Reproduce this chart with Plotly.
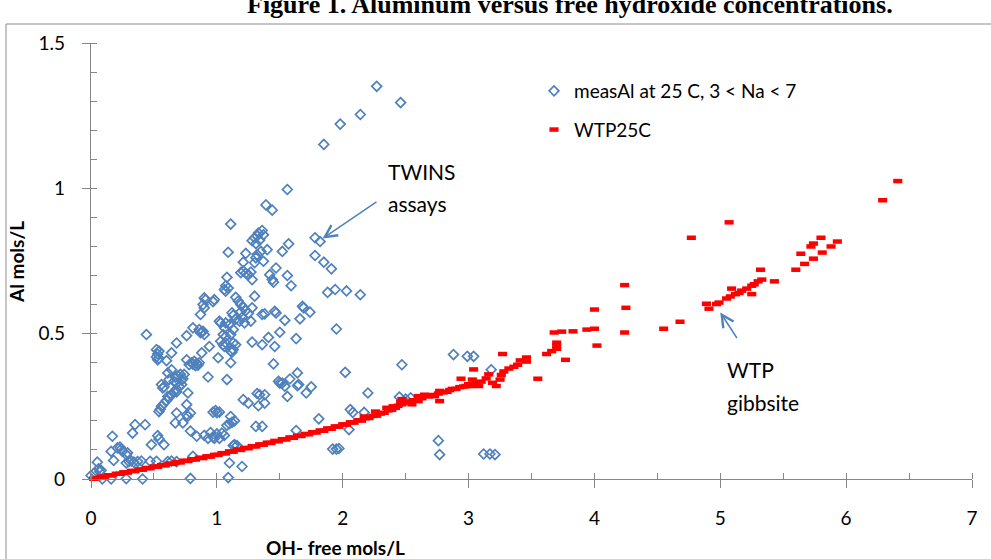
import plotly.graph_objects as go

# ---------------- data ----------------
meas_x = [2.27, 2.46, 2.14, 1.98, 1.85, 1.56, 1.39, 1.44, 1.11, 1.36, 1.37, 1.28, 1.30, 1.32, 1.34, 1.31, 1.33,
          1.78, 1.82, 1.57, 1.52, 1.40, 1.35, 1.32, 1.09, 1.23, 1.78, 1.31, 1.21, 1.30, 1.37, 1.85, 1.91, 1.47,
          1.19, 1.21, 1.23, 1.25, 1.27, 1.42, 1.56, 1.08, 1.28, 1.44, 1.45, 1.59, 1.07, 1.06, 1.07, 1.09,
          1.88, 1.94, 2.03, 2.14, 1.30, 0.90, 0.91, 0.98, 0.97, 1.15, 1.17, 1.19, 1.21, 1.19, 1.23, 1.25,
          1.12, 1.13, 0.89, 0.90, 1.28, 1.36, 1.46, 1.47, 1.54, 1.68, 1.69, 1.66, 1.74, 1.95, 1.38, 0.87,
          0.86, 0.89, 1.02, 1.03, 1.07, 1.10, 1.06, 1.22, 1.27, 1.18, 1.15, 1.20, 1.13, 1.50, 1.41, 1.63,
          1.28, 1.36, 1.46, 0.44, 0.53, 0.52, 0.53, 0.54, 0.52, 0.54, 0.60, 0.64, 0.68, 0.76, 0.81, 0.87,
          0.90, 0.88, 0.94, 1.05, 1.07, 1.07, 1.11, 1.13, 1.11, 1.13, 1.12, 1.15, 1.03, 1.05, 1.06, 1.11,
          1.01, 1.08, 0.93, 0.61, 0.64, 0.62, 0.76, 0.80, 0.82, 0.84, 0.85, 0.83, 0.81, 0.86, 0.78, 0.66,
          0.68, 0.67, 0.69, 0.71, 0.73, 0.74, 0.72, 0.56, 0.57, 0.58, 0.70, 0.72, 0.77, 0.68, 0.61, 0.68,
          0.66, 0.64, 0.62, 0.60, 0.58, 0.56, 0.55, 0.54, 0.68, 0.67, 0.73, 0.76, 0.76, 0.77, 0.79, 0.79,
          0.81, 0.79, 0.84, 0.90, 0.93, 0.95, 0.97, 1.00, 1.02, 1.04, 1.06, 0.98, 0.97, 0.99, 1.00, 1.02,
          1.08, 1.10, 1.12, 1.14, 1.11, 1.10, 1.09, 1.13, 1.14, 1.16, 1.20, 1.21, 1.25, 1.33, 1.38, 1.34,
          1.38, 1.32, 1.31, 1.36, 1.63, 1.81, 1.50, 1.54, 1.56, 1.64, 1.71, 1.75, 1.49, 1.58, 1.65, 1.45,
          2.02, 1.64, 2.47, 2.88, 2.99, 3.04, 3.18, 2.45, 2.50, 2.54, 2.20, 2.06, 2.08, 2.17, 2.05, 1.92,
          1.95, 1.97, 2.76, 2.77, 3.12, 3.17, 3.21, 0.00, 0.05, 0.06, 0.08, 0.07, 0.03, 0.09, 0.15, 0.16,
          0.17, 0.18, 0.16, 0.21, 0.23, 0.24, 0.25, 0.28, 0.29, 0.28, 0.30, 0.32, 0.34, 0.37, 0.40, 0.28,
          0.33, 0.35, 0.43, 0.41, 0.48, 0.47, 0.52, 0.53, 0.54, 0.58, 0.61, 0.64, 0.68, 1.52]
meas_y = [1.351, 1.295, 1.254, 1.221, 1.151, 0.996, 0.943, 0.925, 0.877, 0.855, 0.840, 0.820, 0.830, 0.836, 0.822, 0.810, 0.846,
          0.830, 0.817, 0.809, 0.783, 0.789, 0.783, 0.772, 0.780, 0.776, 0.769, 0.761, 0.746, 0.744, 0.749, 0.746, 0.723, 0.726,
          0.710, 0.715, 0.708, 0.703, 0.712, 0.703, 0.700, 0.694, 0.686, 0.686, 0.677, 0.665, 0.665, 0.652, 0.646, 0.657,
          0.642, 0.652, 0.647, 0.634, 0.629, 0.623, 0.617, 0.617, 0.610, 0.625, 0.612, 0.600, 0.590, 0.575, 0.580, 0.570,
          0.572, 0.563, 0.600, 0.589, 0.589, 0.566, 0.577, 0.571, 0.546, 0.594, 0.589, 0.551, 0.574, 0.516, 0.568, 0.566,
          0.514, 0.508, 0.543, 0.537, 0.537, 0.531, 0.520, 0.537, 0.543, 0.543, 0.550, 0.556, 0.514, 0.505, 0.487, 0.483,
          0.471, 0.462, 0.456, 0.497, 0.410, 0.420, 0.430, 0.440, 0.445, 0.415, 0.407, 0.434, 0.468, 0.493, 0.520, 0.503,
          0.497, 0.434, 0.456, 0.497, 0.490, 0.468, 0.497, 0.468, 0.440, 0.445, 0.436, 0.462, 0.474, 0.462, 0.456, 0.400,
          0.417, 0.342, 0.351, 0.365, 0.376, 0.342, 0.410, 0.400, 0.405, 0.398, 0.392, 0.390, 0.395, 0.400, 0.393, 0.336,
          0.330, 0.350, 0.355, 0.360, 0.345, 0.360, 0.340, 0.325, 0.313, 0.317, 0.318, 0.325, 0.296, 0.300, 0.284, 0.310,
          0.300, 0.290, 0.280, 0.270, 0.260, 0.250, 0.240, 0.232, 0.227, 0.193, 0.193, 0.256, 0.221, 0.216, 0.227, 0.165,
          0.078, 0.002, 0.147, 0.150, 0.140, 0.160, 0.145, 0.155, 0.140, 0.158, 0.150, 0.140, 0.230, 0.235, 0.228, 0.230,
          0.185, 0.190, 0.195, 0.200, 0.215, 0.055, 0.005, 0.115, 0.118, 0.115, 0.043, 0.273, 0.261, 0.252, 0.261, 0.290,
          0.290, 0.294, 0.181, 0.181, 0.167, 0.207, 0.330, 0.319, 0.284, 0.321, 0.296, 0.317, 0.336, 0.344, 0.325, 0.396,
          0.367, 0.365, 0.393, 0.428, 0.422, 0.422, 0.376, 0.282, 0.275, 0.279, 0.296, 0.239, 0.229, 0.229, 0.170, 0.103,
          0.103, 0.105, 0.132, 0.084, 0.086, 0.086, 0.084, 0.012, 0.058, 0.035, 0.030, 0.025, 0.022, 0.000, -0.006, 0.000,
          0.147, 0.064, 0.095, 0.107, 0.110, 0.103, 0.095, 0.084, 0.090, 0.055, 0.060, 0.062, 0.058, 0.060, 0.062, 0.001,
          0.158, 0.187, 0.187, 0.000, 0.118, 0.061, 0.061, 0.149, 0.138, 0.118, 0.060, 0.062, 0.060, 0.330]

wtp_x = [0.02, 0.05, 0.08, 0.11, 0.14, 0.17, 0.20, 0.23, 0.26, 0.29, 0.32, 0.35, 0.38, 0.41, 0.44, 0.47, 0.50,
         0.53, 0.56, 0.59, 0.62, 0.65, 0.68, 0.71, 0.74, 0.77, 0.80, 0.83, 0.86, 0.89, 0.92, 0.95, 0.98, 1.01,
         1.04, 1.07, 1.10, 1.13, 1.16, 1.19, 1.22, 1.25, 1.28, 1.31, 1.34, 1.37, 1.40, 1.43, 1.46, 1.49, 1.52,
         1.55, 1.58, 1.61, 1.64, 1.67, 1.70, 1.73, 1.76, 1.79, 1.82, 1.85, 1.88, 1.91, 1.94, 1.97, 2.00, 2.03,
         2.06, 2.09, 2.12, 2.15, 2.18, 2.21, 2.24, 2.27, 2.30, 2.33, 2.36, 2.39, 2.42, 2.44, 2.17, 2.26, 2.35,
         2.40, 2.46, 2.47, 2.47, 2.48, 2.52, 2.55, 2.56, 2.60, 2.60, 2.63, 2.65, 2.68, 2.72, 2.73, 2.76, 2.77,
         2.77, 2.80, 2.83, 2.85, 2.87, 2.90, 2.93, 2.94, 2.96, 2.98, 3.00, 3.02, 3.03, 3.04, 3.06, 3.08, 3.10,
         3.14, 3.16, 3.19, 3.22, 3.25, 3.26, 3.27, 3.28, 3.32, 3.36, 3.39, 3.41, 3.46, 3.46, 3.55, 3.62, 3.66,
         3.70, 3.70, 3.70, 3.68, 3.74, 3.77, 3.83, 3.94, 4.00, 4.00, 4.02, 4.24, 4.25, 4.24, 4.55, 4.68, 4.77,
         4.89, 4.91, 4.97, 4.99, 5.05, 5.07, 5.08, 5.09, 5.12, 5.15, 5.17, 5.21, 5.25, 5.25, 5.27, 5.30, 5.32,
         5.33, 5.43, 5.60, 5.64, 5.67, 5.72, 5.74, 5.74, 5.80, 5.81, 5.88, 5.93, 6.29, 6.41]
wtp_y = [0.001, 0.003, 0.008, 0.008, 0.013, 0.013, 0.018, 0.018, 0.023, 0.022, 0.028, 0.027, 0.033, 0.032, 0.038, 0.037, 0.043,
         0.042, 0.048, 0.047, 0.053, 0.052, 0.058, 0.057, 0.063, 0.062, 0.068, 0.067, 0.073, 0.072, 0.078, 0.077, 0.083, 0.083,
         0.089, 0.088, 0.095, 0.094, 0.101, 0.100, 0.107, 0.106, 0.113, 0.112, 0.119, 0.118, 0.125, 0.124, 0.131, 0.130, 0.137,
         0.136, 0.143, 0.142, 0.149, 0.148, 0.155, 0.154, 0.161, 0.160, 0.167, 0.166, 0.174, 0.173, 0.181, 0.180, 0.188, 0.187,
         0.195, 0.194, 0.202, 0.201, 0.209, 0.210, 0.217, 0.218, 0.225, 0.228, 0.236, 0.238, 0.245, 0.252, 0.215, 0.232, 0.245,
         0.250, 0.264, 0.257, 0.275, 0.262, 0.266, 0.257, 0.271, 0.268, 0.285, 0.278, 0.290, 0.284, 0.289, 0.285, 0.294, 0.303,
         0.268, 0.298, 0.300, 0.306, 0.310, 0.310, 0.316, 0.345, 0.318, 0.320, 0.326, 0.320, 0.342, 0.377, 0.330, 0.320, 0.335,
         0.346, 0.360, 0.331, 0.320, 0.342, 0.358, 0.430, 0.370, 0.380, 0.386, 0.393, 0.408, 0.418, 0.404, 0.345, 0.430, 0.440,
         0.448, 0.459, 0.469, 0.504, 0.507, 0.410, 0.508, 0.514, 0.583, 0.517, 0.459, 0.667, 0.589, 0.504, 0.517, 0.541, 0.830,
         0.603, 0.586, 0.602, 0.607, 0.621, 0.883, 0.628, 0.655, 0.636, 0.640, 0.648, 0.655, 0.665, 0.636, 0.670, 0.680, 0.720,
         0.686, 0.680, 0.720, 0.775, 0.740, 0.800, 0.810, 0.758, 0.830, 0.779, 0.800, 0.817, 0.959, 1.025]

x_ticks = [0, 1, 2, 3, 4, 5, 6, 7]
y_ticks = [0, 0.5, 1, 1.5]
y_tick_text = ["0", "0.5", "1", "1.5"]

# ---------------- layout geometry ----------------
W, H = 991, 559
ML, MR, MT, MB = 91, 19, 43, 80
PW, PH = W - ML - MR, H - MT - MB


def px_x(px):
    return (px - ML) / PW


def px_y(py):
    return (H - MB - py) / PH


AXC = "#868686"
FONT = "Lato"
BLUE = "#4F81BD"

fig = go.Figure()
fig.add_trace(go.Scatter(
    x=meas_x, y=meas_y, mode="markers", name="measAl at 25 C, 3 < Na < 7",
    legendgroup="a",
    marker=dict(symbol="diamond-open", size=7.5, color=BLUE, line=dict(width=1.7, color=BLUE)),
    cliponaxis=False, hoverinfo="x+y"))
fig.add_trace(go.Scatter(
    x=wtp_x, y=wtp_y, mode="markers", name="WTP25C",
    legendgroup="b",
    marker=dict(symbol="line-ew", size=6.5, color="#FF0000", line=dict(width=4.5, color="#FF0000")),
    cliponaxis=False, hoverinfo="x+y"))

axis_common = dict(showgrid=False, zeroline=False, showline=True, linecolor=AXC, linewidth=1.3,
                   ticks="outside", tickcolor=AXC, tickwidth=1.3, ticklen=8,
                   tickfont=dict(family=FONT, size=19, color="black"))

fig.update_layout(
    width=W, height=H, margin=dict(l=ML, r=MR, t=MT, b=MB),
    paper_bgcolor="white", plot_bgcolor="white",
    xaxis=dict(range=[0, 7], tickmode="array", tickvals=x_ticks, ticktext=[str(v) for v in x_ticks],
               ticklabelstandoff=14,
               minor=dict(dtick=0.5, tick0=0, ticks="inside", ticklen=6, tickcolor=AXC, tickwidth=1.3, showgrid=False),
               **axis_common),
    yaxis=dict(range=[0, 1.5], tickmode="array", tickvals=y_ticks, ticktext=y_tick_text,
               ticklabelstandoff=13,
               minor=dict(dtick=0.1, tick0=0, ticks="inside", ticklen=6, tickcolor=AXC, tickwidth=1.3, showgrid=False),
               **axis_common),
    xaxis2=dict(range=[0, 7], overlaying="x", anchor="y", side="bottom", tickmode="array", tickvals=x_ticks,
                ticks="inside", ticklen=6, tickcolor=AXC, tickwidth=1.3, showticklabels=False,
                showgrid=False, zeroline=False, showline=False),
    yaxis2=dict(range=[0, 1.5], overlaying="y", anchor="x", side="left", tickmode="array", tickvals=y_ticks,
                ticks="inside", ticklen=6, tickcolor=AXC, tickwidth=1.3, showticklabels=False,
                showgrid=False, zeroline=False, showline=False),
    showlegend=True,
    legend=dict(x=px_x(534), y=px_y(72), xanchor="left", yanchor="top", bgcolor="rgba(0,0,0,0)",
                font=dict(family=FONT, size=19, color="black"), traceorder="grouped", tracegroupgap=11,
                itemsizing="trace"),
)

# outer chart border
fig.add_shape(type="rect", xref="paper", yref="paper",
              x0=px_x(6), x1=px_x(996), y0=px_y(566), y1=px_y(24),
              line=dict(color="#8C8C8C", width=1), fillcolor="rgba(0,0,0,0)", layer="below")

# title (partially cut off at top)
fig.add_annotation(text="<b>Figure 1. Aluminum versus free hydroxide concentrations.</b>",
                   xref="paper", yref="paper", x=px_x(570), y=px_y(21), xanchor="center", yanchor="bottom",
                   showarrow=False, font=dict(family="Liberation Serif", size=26, color="black"))

# axis titles
fig.add_annotation(text="<b>OH- free mols/L</b>", xref="paper", yref="paper", x=px_x(335), y=px_y(547),
                   xanchor="center", yanchor="middle", showarrow=False,
                   font=dict(family=FONT, size=19, color="black"))
fig.add_annotation(text="<b>Al mols/L</b>", xref="paper", yref="paper", x=px_x(16), y=px_y(262),
                   xanchor="center", yanchor="middle", showarrow=False, textangle=-90,
                   font=dict(family=FONT, size=19, color="black"))

# text callouts
for txt, px0, py0 in [("TWINS", 386, 171), ("assays", 386, 204), ("WTP", 725, 369), ("gibbsite", 725, 402)]:
    fig.add_annotation(text=txt, xref="paper", yref="paper", x=px_x(px0), y=px_y(py0),
                       xanchor="left", yanchor="middle", showarrow=False,
                       font=dict(family=FONT, size=21, color="black"))

# arrows
for (tx, ty), (sx, sy) in [((1.84, 0.827), (2.28, 0.957)), ((5.0, 0.573), (5.14, 0.48))]:
    fig.add_annotation(x=tx, y=ty, ax=sx, ay=sy, xref="x", yref="y", axref="x", ayref="y",
                       text="", showarrow=True, arrowhead=5, arrowsize=1.6, arrowwidth=1.5, arrowcolor=BLUE)

fig.write_html("out.html", config={"displayModeBar": False},
               post_script="document.body.style.margin='0px';")
